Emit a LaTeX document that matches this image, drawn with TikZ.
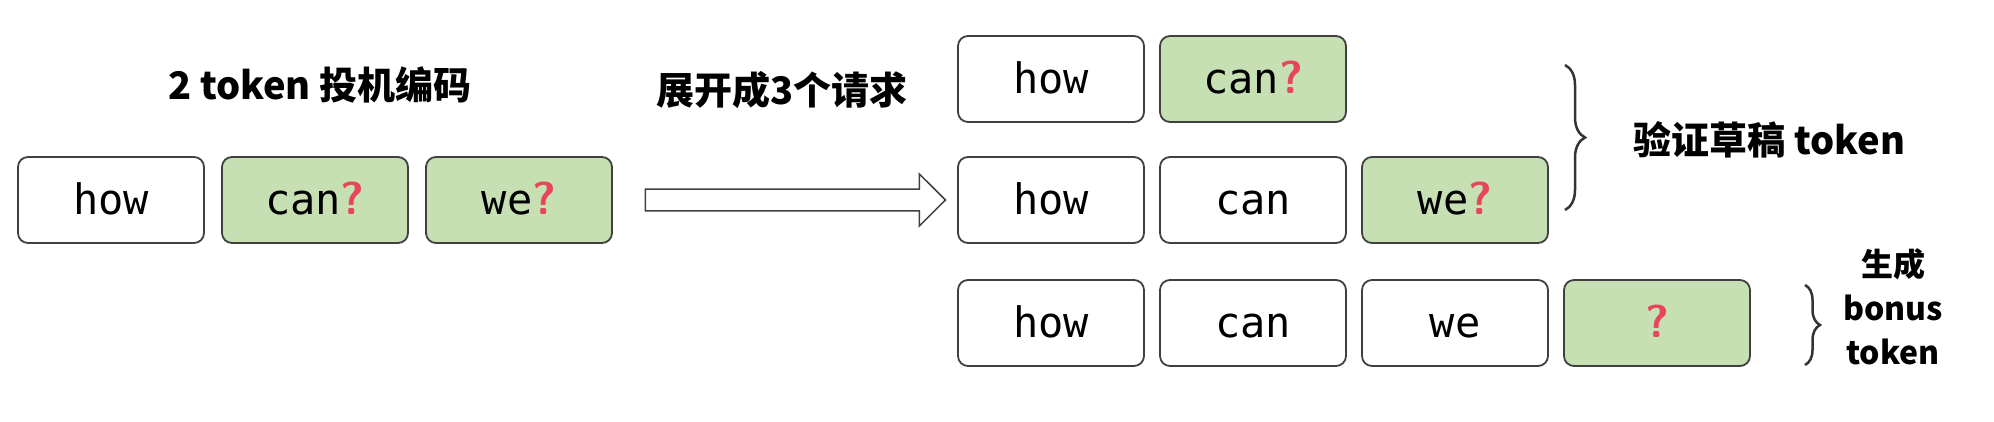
\documentclass[tikz,border=0pt]{standalone}
\usepackage{fontspec}
\setmonofont{DejaVu Sans Mono}
\newfontfamily\cjk{Noto Sans CJK SC}
\usetikzlibrary{decorations.pathreplacing,shapes.arrows}
\definecolor{gfill}{HTML}{C6E0B4}
\definecolor{qred}{HTML}{E8455A}
\begin{document}
\begin{tikzpicture}[x=1pt,y=-1pt,
  box/.style={draw=black!75,line width=1.8pt,rounded corners=10pt,minimum width=186pt,minimum height=86pt,inner sep=0pt,text height=31pt,text depth=2pt,font=\ttfamily\fontsize{42}{44}\selectfont},
  g/.style={box,fill=gfill},
  lab/.style={font=\cjk\bfseries\fontsize{38}{44}\selectfont,align=center},
  br/.style={draw=black!80,line width=2.5pt,decorate,decoration={brace,amplitude=20pt}}]
\useasboundingbox (0,0) rectangle (1994,422);
\newcommand{\qm}{\textcolor{qred}{\sffamily\bfseries\fontsize{46}{46}\selectfont ?}}
\node[box] (a1) at (111,200) {how};
\node[g] (a2) at (315,200) {can\qm};
\node[g] (a3) at (519,200) {we\qm};
\node[lab] (t1) at (320,85) {2 token 投机编码};
\node[lab] (t2) at (782,90) {展开成3个请求};
\node[single arrow,draw=black!75,line width=1.5pt,fill=white,minimum height=300pt,minimum width=52pt,single arrow head extend=15pt,inner sep=10pt] (arr) at (790,200) {};
\node[box] (b1) at (1051,79) {how};
\node[g] (b2) at (1253,79) {can\qm};
\node[box] (c1) at (1051,200) {how};
\node[box] (c2) at (1253,200) {can};
\node[g] (c3) at (1455,200) {we\qm};
\node[box] (d1) at (1051,323) {how};
\node[box] (d2) at (1253,323) {can};
\node[box] (d3) at (1455,323) {we};
\node[g] (d4) at (1657,323) {\qm};
\coordinate (s1) at (1565,65);
\coordinate (s2) at (1565,210);
\draw[br] (s1) -- (s2);
\node[lab,anchor=west] (t3) at (1630,140) {验证草稿 token};
\coordinate (u1) at (1805,285);
\coordinate (u2) at (1805,365);
\draw[br,decoration={amplitude=15pt}] (u1) -- (u2);
\node[lab,font=\cjk\bfseries\fontsize{32}{44}\selectfont] (t4) at (1893,307) {生成\\bonus\\token};
\end{tikzpicture}
\end{document}
